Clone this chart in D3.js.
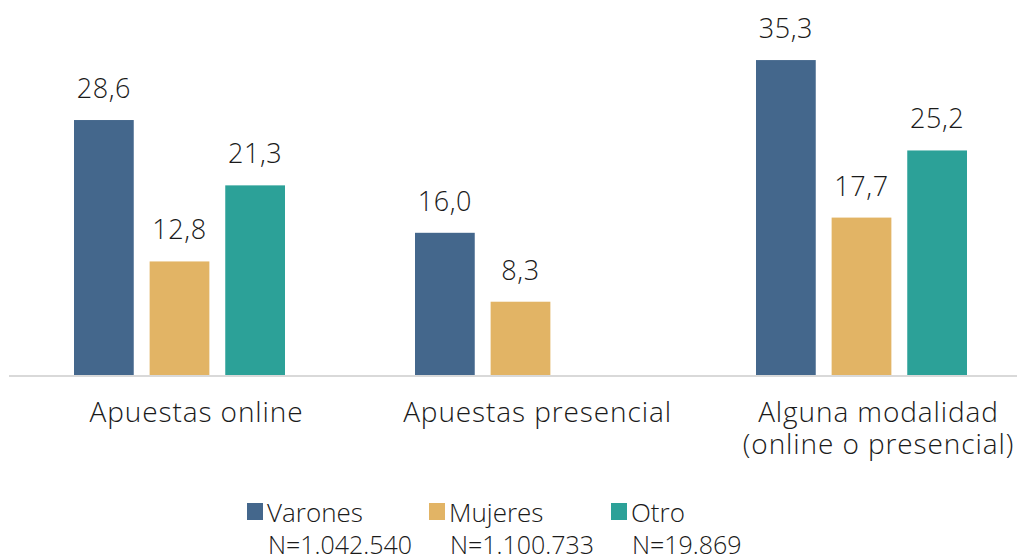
<!DOCTYPE html>
<html>
<head>
<meta charset="utf-8">
<script src="https://cdn.jsdelivr.net/npm/d3@7"></script>
<style>
  body { margin: 0; background: #fff; }
  text { font-family: "Open Sans", sans-serif; font-weight: 300; fill: #1a1a1a; }
</style>
</head>
<body>
<div id="chart"></div>
<script>
const WIDTH = 1017;
const HEIGHT = 559;
const BASELINE = 376;

const CATEGORIES = [
    ['Apuestas online'],
    ['Apuestas presencial'],
    ['Alguna modalidad', '(online o presencial)'],
];
const SERIES = ['Varones', 'Mujeres', 'Otro'];
const SERIES_N = ['N=1.042.540', 'N=1.100.733', 'N=19.869'];
const VARONES = [28.6, 16.0, 35.3];
const MUJERES = [12.8, 8.3, 17.7];
const OTRO = [21.3, null, 25.2];

const COLORS = {
    'Varones': '#44678c',
    'Mujeres': '#e2b465',
    'Otro': '#2ca198',
};

const values = { 'Varones': VARONES, 'Mujeres': MUJERES, 'Otro': OTRO };
const catKeys = CATEGORIES.map(c => c.join(' '));

const svg = d3.select('#chart')
    .append('svg')
    .attr('width', WIDTH)
    .attr('height', HEIGHT);

// Scales
const x0 = d3.scaleBand().domain(catKeys).range([9, 1032]);
const half = 105.5;
const x1 = d3.scaleBand().domain(SERIES)
    .range([x0.bandwidth() / 2 - half, x0.bandwidth() / 2 + half])
    .paddingInner(0.21);
const y = d3.scaleLinear().domain([0, 40]).range([BASELINE, BASELINE - 358]);

// Bars
const groups = svg.selectAll('g.group')
    .data(catKeys)
    .enter()
    .append('g')
    .attr('class', 'group')
    .attr('transform', d => `translate(${x0(d)},0)`);

groups.each(function (cat, ci) {
    const rows = SERIES
        .map(s => ({ series: s, value: values[s][ci] }))
        .filter(r => r.value !== null);
    const g = d3.select(this);

    g.selectAll('rect')
        .data(rows)
        .enter()
        .append('rect')
        .attr('x', d => x1(d.series))
        .attr('y', d => y(d.value))
        .attr('width', x1.bandwidth())
        .attr('height', d => BASELINE - y(d.value))
        .style('fill', d => COLORS[d.series]);

    g.selectAll('text.value')
        .data(rows)
        .enter()
        .append('text')
        .attr('class', 'value')
        .attr('x', d => x1(d.series) + x1.bandwidth() / 2)
        .attr('y', d => y(d.value) - 22)
        .style('text-anchor', 'middle')
        .style('font-size', '27px')
        .style('letter-spacing', '0.6px')
        .text(d => d3.format('.1f')(d.value).replace('.', ','));
});

// X axis
const xAxis = svg.append('g')
    .attr('transform', `translate(0,${BASELINE})`)
    .call(d3.axisBottom(x0).tickSize(0).tickFormat(''));

xAxis.select('.domain')
    .attr('d', `M9,0H${WIDTH}`)
    .style('stroke', '#d9d9d9')
    .style('stroke-width', 2);

xAxis.selectAll('.tick').each(function (d, i) {
    const t = d3.select(this).append('text')
        .attr('x', 17)
        .attr('y', 46)
        .style('text-anchor', 'middle')
        .style('font-size', '28px')
        .style('letter-spacing', '0.9px')
        .style('fill', '#1a1a1a');
    CATEGORIES[i].forEach((line, li) => {
        t.append('tspan')
            .attr('x', 17)
            .attr('dy', li === 0 ? 0 : 31.5)
            .text(line);
    });
});

// Legend
const legend = svg.selectAll('g.legend')
    .data(SERIES)
    .enter()
    .append('g')
    .attr('class', 'legend')
    .attr('transform', (d, i) => `translate(${247 + i * 182},503)`);

legend.append('rect')
    .attr('x', 0)
    .attr('y', 0)
    .attr('width', 16)
    .attr('height', 17)
    .style('fill', d => COLORS[d]);

legend.append('text')
    .attr('x', 20)
    .attr('y', 19)
    .style('font-size', '26px')
    .text(d => d);

legend.append('text')
    .attr('x', 21)
    .attr('y', 51)
    .style('font-size', '25px')
    .text((d, i) => SERIES_N[i]);
</script>
</body>
</html>
